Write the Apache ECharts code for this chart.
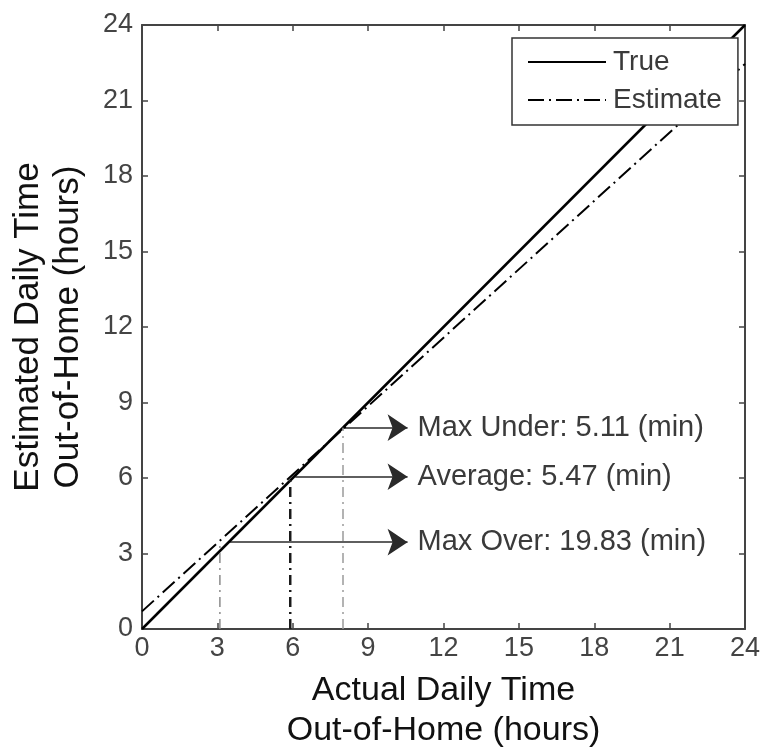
<!DOCTYPE html>
<html>
<head>
<meta charset="utf-8">
<script src="https://cdn.jsdelivr.net/npm/echarts@6/dist/echarts.min.js"></script>
<style>html,body{margin:0;padding:0;background:#fff}#c{width:764px;height:751px}</style>
</head>
<body>
<div id="c"></div>
<script>
// ---- data ----
const axisTicks = [0, 3, 6, 9, 12, 15, 18, 21, 24];
const trueX = [0, 24];
const trueY = [0, 24];
const estimateX = [0, 24];
const estimateY = [0.7, 22.45];
const guideX = [3.1, 5.9, 8.0];
const guideTop = [3.5, 6.0, 8.0];
const arrowY = [3.45, 6.05, 8.0];
const arrowStartX = [3.45, 6.1, 8.0];
const arrowEndX = [10.57, 10.57, 10.57];
const arrowLabels = ['Max Over: 19.83 (min)', 'Average: 5.47 (min)', 'Max Under: 5.11 (min)'];
const seriesNames = ['True', 'Estimate'];

const FONT = 'Liberation Sans, Arial, sans-serif';
const guideColors = ['#8a8a8a', '#1a1a1a', '#9a9a9a'];
const guideWidths = [1.5, 2.5, 1.5];

const chart = echarts.init(document.getElementById('c'), null, {renderer: 'canvas'});

const axisCommon = {
  type: 'value', min: axisTicks[0], max: axisTicks[axisTicks.length - 1], interval: 3,
  splitLine: {show: false},
  axisLine: {show: true, onZero: false, lineStyle: {color: '#444', width: 2}},
  axisTick: {show: true, inside: true, length: 6, lineStyle: {color: '#444', width: 1.5}}
};

const series = [];
series.push({
  name: seriesNames[0], type: 'line', symbol: 'none', clip: true,
  data: trueX.map((x, i) => [x, trueY[i]]),
  lineStyle: {color: '#000', width: 2.5},
  itemStyle: {color: '#000'}
});
series.push({
  name: seriesNames[1], type: 'line', symbol: 'none', clip: true,
  data: estimateX.map((x, i) => [x, estimateY[i]]),
  lineStyle: {color: '#000', width: 2, type: [16, 5, 2, 5]},
  itemStyle: {color: '#000'}
});
guideX.forEach((x, i) => {
  series.push({
    type: 'line', symbol: 'none', silent: true,
    data: [[x, 0], [x, guideTop[i]]],
    lineStyle: {color: guideColors[i], width: guideWidths[i], type: [10, 5, 2, 5]}
  });
});
series.push({
  type: 'lines', coordinateSystem: 'cartesian2d', silent: true,
  symbol: ['none', 'arrow'], symbolSize: [14, 20],
  lineStyle: {color: '#2a2a2a', width: 1.5, opacity: 1},
  label: {show: true, position: 'end', distance: 10, fontFamily: FONT, fontSize: 29, color: '#3a3a3a',
    formatter: p => p.name},
  data: arrowY.map((y, i) => ({name: arrowLabels[i], coords: [[arrowStartX[i], y], [arrowEndX[i], y]]}))
});

chart.setOption({
  animation: false,
  backgroundColor: '#fff',
  grid: {left: 142, right: 19, top: 25, bottom: 122, containLabel: false, outerBoundsMode: 'none'},
  legend: {
    data: seriesNames, orient: 'vertical', left: 512, top: 38,
    backgroundColor: '#fff', borderColor: '#333', borderWidth: 1.5,
    padding: [10, 16, 11, 15], itemWidth: 78, itemHeight: 14, itemGap: 10,
    itemStyle: {opacity: 0},
    textStyle: {fontFamily: FONT, fontSize: 28, color: '#3a3a3a', lineHeight: 28, padding: [0, 0, 0, 2]}
  },
  xAxis: [
    Object.assign({}, axisCommon, {
      position: 'bottom',
      name: 'Actual Daily Time\nOut-of-Home (hours)', nameLocation: 'middle', nameGap: 42,
      nameTextStyle: {fontFamily: FONT, fontSize: 34, color: '#111', lineHeight: 40},
      axisLabel: {fontFamily: FONT, fontSize: 27, color: '#444', margin: 6, showMinLabel: true, showMaxLabel: true}
    }),
    Object.assign({}, axisCommon, {position: 'top', axisLabel: {show: false}})
  ],
  yAxis: [
    Object.assign({}, axisCommon, {
      position: 'left',
      name: 'Estimated Daily Time\nOut-of-Home (hours)', nameLocation: 'middle', nameGap: 54, nameRotate: 90,
      nameTextStyle: {fontFamily: FONT, fontSize: 35, color: '#111', lineHeight: 40},
      axisLabel: {fontFamily: FONT, fontSize: 27, color: '#444', margin: 9, showMinLabel: true, showMaxLabel: true}
    }),
    Object.assign({}, axisCommon, {position: 'right', axisLabel: {show: false}})
  ],
  series: series
});
</script>
</body>
</html>
